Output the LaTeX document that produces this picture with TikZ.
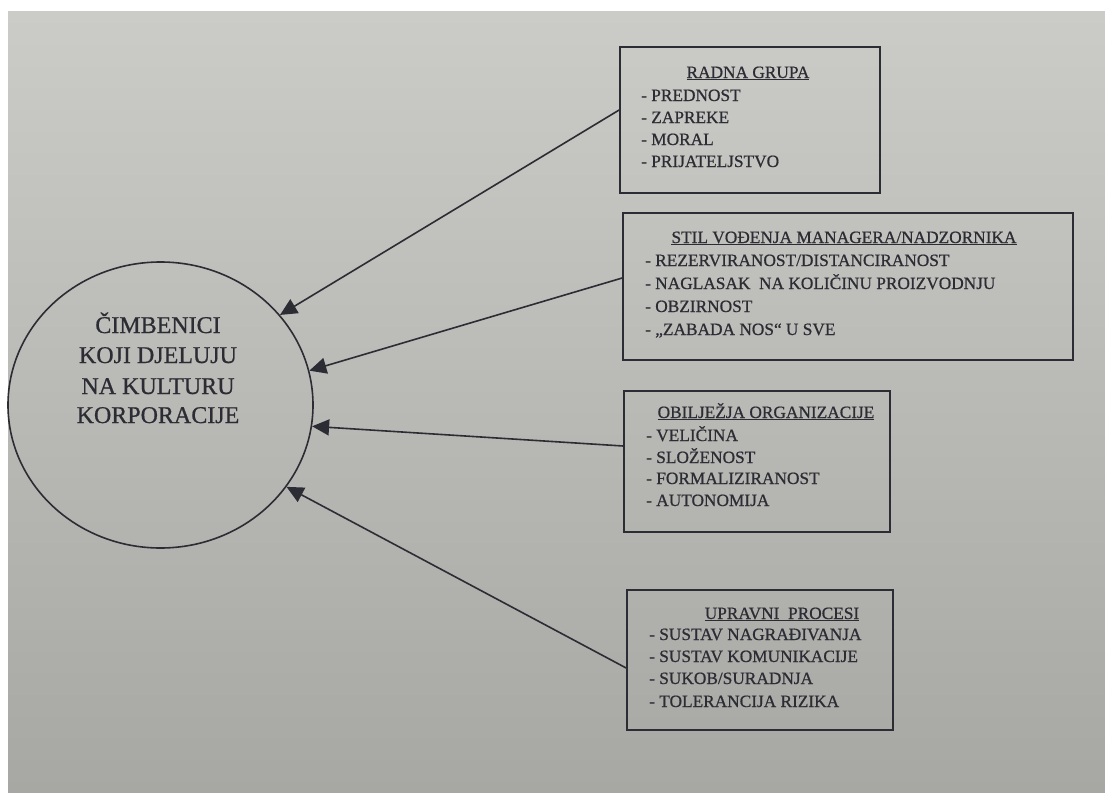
\documentclass[tikz,border=0pt]{standalone}
\usepackage{fontspec}
\setmainfont{Liberation Serif}[FakeBold=0.7]
\usetikzlibrary{arrows.meta,shapes.geometric}
\definecolor{ink}{HTML}{2C2C34}
\definecolor{paperTop}{HTML}{CBCBC7}
\definecolor{paperBot}{HTML}{A7A7A4}
\tikzset{
  box/.style={draw=ink, line width=1.7pt, rectangle, inner sep=0pt},
  circ/.style={draw=ink, line width=1.6pt, ellipse, inner sep=0pt, minimum width=305pt, minimum height=286pt},
  ctext/.style={text=ink, anchor=base, inner sep=0pt, font=\fontsize{24}{30}\selectfont},
  ttl/.style={text=ink, anchor=base, inner sep=0pt, font=\fontsize{17.3}{22}\selectfont},
  itm/.style={text=ink, anchor=base west, inner sep=0pt, font=\fontsize{17.3}{22}\selectfont},
  conn/.style={draw=ink, line width=1.6pt, -{Triangle[length=17pt,width=16pt]}}
}
\begin{document}
\begin{tikzpicture}[x=1pt,y=-1pt]
\useasboundingbox (0,0) rectangle (1105,792);
\fill[white] (0,0) rectangle (1105,792);
\fill[top color=paperTop, bottom color=paperBot] (8,12) rectangle (1105,792);

% central circle
\node[circ] (c) at (160.5,405) {};
\node[ctext] (ct1) at (158,333) {ČIMBENICI};
\node[ctext] (ct2) at (158,363) {KOJI DJELUJU};
\node[ctext] (ct3) at (158,394) {NA KULTURU};
\node[ctext] (ct4) at (158,423) {KORPORACIJE};

% box 1
\node[box, minimum width=260pt, minimum height=146pt] (b1) at (750,120) {};
\node[ttl] (t1) at (748,78) {\underline{RADNA GRUPA}};
\node[itm] (i11) at (641,101) {- PREDNOST};
\node[itm] (i12) at (641,123) {- ZAPREKE};
\node[itm] (i13) at (641,145) {- MORAL};
\node[itm] (i14) at (641,167) {- PRIJATELJSTVO};

% box 2
\node[box, minimum width=450pt, minimum height=147pt] (b2) at (848,286.5) {};
\node[ttl] (t2) at (844,243) {\underline{STIL VOĐENJA MANAGERA/NADZORNIKA}};
\node[itm] (i21) at (645,266) {- REZERVIRANOST/DISTANCIRANOST};
\node[itm] (i22) at (645,289) {- NAGLASAK\ \ NA KOLIČINU PROIZVODNJU};
\node[itm] (i23) at (645,312) {- OBZIRNOST};
\node[itm] (i24) at (645,335) {- „ZABADA NOS“ U SVE};

% box 3
\node[box, minimum width=266pt, minimum height=141pt] (b3) at (757,461.5) {};
\node[ttl] (t3) at (766,418) {\underline{OBILJEŽJA ORGANIZACIJE}};
\node[itm] (i31) at (646,441) {- VELIČINA};
\node[itm] (i32) at (646,463) {- SLOŽENOST};
\node[itm] (i33) at (646,484) {- FORMALIZIRANOST};
\node[itm] (i34) at (646,506) {- AUTONOMIJA};

% box 4
\node[box, minimum width=266pt, minimum height=140pt] (b4) at (760,660) {};
\node[ttl] (t4) at (782,619) {\underline{UPRAVNI\ \ PROCESI}};
\node[itm] (i41) at (649,640) {- SUSTAV NAGRAĐIVANJA};
\node[itm] (i42) at (649,662) {- SUSTAV KOMUNIKACIJE};
\node[itm] (i43) at (649,684) {- SUKOB/SURADNJA};
\node[itm] (i44) at (649,707) {- TOLERANCIJA RIZIKA};

% connectors
\draw[conn] ([yshift=10pt]b1.west) -- (c.37);
\draw[conn] ([yshift=8.5pt]b2.west) -- (c.13.5);
\draw[conn] ([yshift=15.5pt]b3.west) -- (c.-8);
\draw[conn] ([yshift=-8pt]b4.west) -- (c.-33);
\end{tikzpicture}
\end{document}
